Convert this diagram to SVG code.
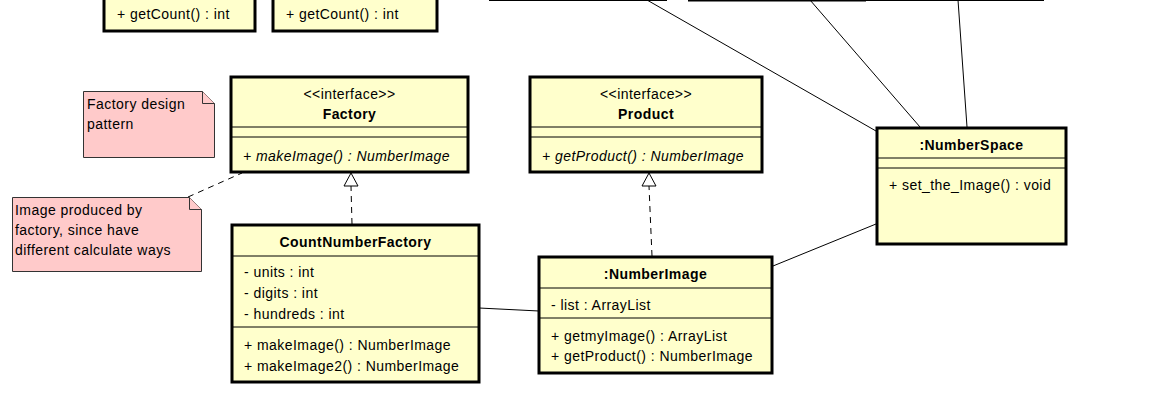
<svg xmlns="http://www.w3.org/2000/svg" width="1161" height="411" viewBox="0 0 1161 411">
<style>
.cls{fill:#ffffcc;stroke:#000;stroke-width:3}
.sep{stroke:#000;stroke-width:1}
.note{fill:#ffcaca;stroke:#333;stroke-width:1}
.t{font-family:"Liberation Sans",Arial,sans-serif;font-size:14px;letter-spacing:0.45px;fill:#000}
.b{font-weight:bold}
.i{font-style:italic}
.m{text-anchor:middle}
.ln{stroke:#000;stroke-width:1;fill:none}
.dash{stroke:#000;stroke-width:1;fill:none;stroke-dasharray:6,5}
.tri{fill:#fff;stroke:#000;stroke-width:1}
</style>
<g id="connectors">
<line class="ln" x1="647" y1="0" x2="876" y2="131"/>
<line class="ln" x1="810" y1="0" x2="920" y2="127"/>
<line class="ln" x1="958" y1="0" x2="967" y2="127"/>
<line class="ln" x1="773" y1="266" x2="876" y2="224"/>
<line class="ln" x1="479" y1="308" x2="539" y2="311"/>
<line class="dash" x1="188" y1="197" x2="242" y2="173"/>
<line class="dash" x1="352" y1="224" x2="351" y2="186"/>
<polygon class="tri" points="351,173 344,186 358,186"/>
<line class="dash" x1="652" y1="256" x2="649" y2="186"/>
<polygon class="tri" points="649,173 642,186 656,186"/>
</g>
<g id="topBoxes">
<rect class="cls" x="104" y="-20" width="151" height="51"/>
<text class="t" x="117" y="19">+ getCount() : int</text>
<rect class="cls" x="273" y="-20" width="164" height="51"/>
<text class="t" x="286" y="19">+ getCount() : int</text>
<line x1="489" y1="0" x2="667" y2="0" stroke="#000" stroke-width="2"/>
<line x1="688" y1="0" x2="866" y2="0" stroke="#000" stroke-width="3"/>
<line x1="866" y1="0" x2="1044" y2="0" stroke="#000" stroke-width="2"/>
</g>
<g id="note1">
<path class="note" d="M83.5,91.5 H202.5 L214.5,103.5 V157.5 H83.5 Z"/>
<path class="note" d="M202.5,91.5 V103.5 H214.5" fill="none"/>
<text class="t" x="87" y="109">Factory design</text>
<text class="t" x="87" y="129">pattern</text>
</g>
<g id="note2">
<path class="note" d="M12.5,197.5 H189.5 L201.5,209.5 V271.5 H12.5 Z"/>
<path class="note" d="M189.5,197.5 V209.5 H201.5" fill="none"/>
<text class="t" x="15" y="215">Image produced by</text>
<text class="t" x="15" y="235">factory, since have</text>
<text class="t" x="15" y="255">different calculate ways</text>
</g>
<g id="Factory">
<rect class="cls" x="231" y="77" width="237" height="95"/>
<line class="sep" x1="231" y1="127" x2="468" y2="127"/>
<line class="sep" x1="231" y1="137" x2="468" y2="137"/>
<text class="t m" x="349.5" y="99">&lt;&lt;interface&gt;&gt;</text>
<text class="t b m" x="349.5" y="119">Factory</text>
<text class="t i" x="243" y="161">+ makeImage() : NumberImage</text>
</g>
<g id="Product">
<rect class="cls" x="530" y="77" width="232" height="95"/>
<line class="sep" x1="530" y1="127" x2="762" y2="127"/>
<line class="sep" x1="530" y1="137" x2="762" y2="137"/>
<text class="t m" x="646" y="99">&lt;&lt;interface&gt;&gt;</text>
<text class="t b m" x="646" y="119">Product</text>
<text class="t i" x="542" y="161">+ getProduct() : NumberImage</text>
</g>
<g id="NumberSpace">
<rect class="cls" x="877" y="128" width="189" height="116"/>
<line class="sep" x1="877" y1="158" x2="1066" y2="158"/>
<line class="sep" x1="877" y1="168" x2="1066" y2="168"/>
<text class="t b m" x="971.5" y="150">:NumberSpace</text>
<text class="t" x="889" y="190">+ set_the_Image() : void</text>
</g>
<g id="CountNumberFactory">
<rect class="cls" x="232" y="225" width="247" height="157"/>
<line class="sep" x1="232" y1="256" x2="479" y2="256"/>
<line class="sep" x1="232" y1="327" x2="479" y2="327"/>
<text class="t b m" x="355.5" y="247">CountNumberFactory</text>
<text class="t" x="244" y="277">- units : int</text>
<text class="t" x="244" y="298">- digits : int</text>
<text class="t" x="244" y="319">- hundreds : int</text>
<text class="t" x="244" y="350">+ makeImage() : NumberImage</text>
<text class="t" x="244" y="371">+ makeImage2() : NumberImage</text>
</g>
<g id="NumberImage">
<rect class="cls" x="539" y="257" width="233" height="116"/>
<line class="sep" x1="539" y1="288" x2="772" y2="288"/>
<line class="sep" x1="539" y1="318" x2="772" y2="318"/>
<text class="t b m" x="655.5" y="279">:NumberImage</text>
<text class="t" x="551" y="310">- list : ArrayList</text>
<text class="t" x="551" y="341">+ getmyImage() : ArrayList</text>
<text class="t" x="551" y="361">+ getProduct() : NumberImage</text>
</g>
</svg>
